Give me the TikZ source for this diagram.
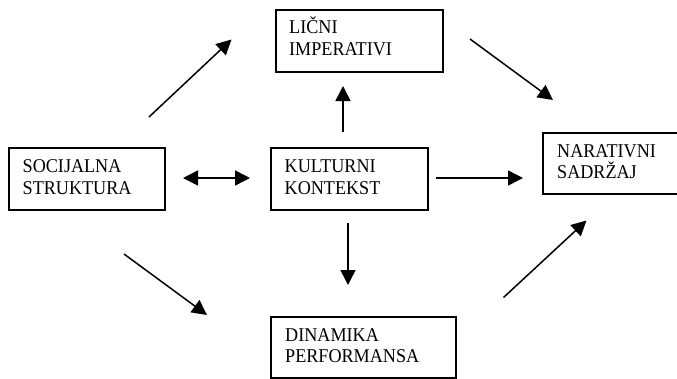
\documentclass[tikz,border=0pt]{standalone}
\usepackage{fontspec}
\setmainfont[FakeStretch=0.93]{Liberation Serif}
\usetikzlibrary{arrows.meta}
\begin{document}
\begin{tikzpicture}[x=1pt,y=-1pt,
  box/.style={draw=black, line width=2.2pt, rectangle, anchor=north west, inner sep=0pt},
  lbl/.style={anchor=base west, align=left, inner sep=0pt, font=\fontsize{19.5}{21.5}\selectfont},
  arr/.style={line width=1.5pt, -{Triangle[length=15pt,width=15pt]}},
  darr/.style={line width=1.5pt, {Triangle[length=15pt,width=15pt]}-{Triangle[length=15pt,width=15pt]}}]
\useasboundingbox (0,0) rectangle (677,378);
% boxes
\node[box, minimum width=167pt, minimum height=62pt] (lic) at (275,8.5) {};
\node[box, minimum width=156pt, minimum height=62pt] (soc) at (8,146.5) {};
\node[box, minimum width=157pt, minimum height=62pt] (kul) at (270,146.5) {};
\node[box, minimum width=135pt, minimum height=61pt] (nar) at (542,131.5) {};
\node[box, minimum width=185pt, minimum height=61pt] (din) at (270,315.5) {};
% labels (anchored at the baseline of the last line)
\node[lbl] (licT) at (289,55) {LIČNI\\IMPERATIVI};
\node[lbl] (socT) at (22.5,194) {SOCIJALNA\\STRUKTURA};
\node[lbl] (kulT) at (284.5,194) {KULTURNI\\KONTEKST};
\node[lbl] (narT) at (557,178.5) {NARATIVNI\\SADRŽAJ};
\node[lbl] (dinT) at (285,362.5) {DINAMIKA\\PERFORMANSA};
% arrow end coordinates
\coordinate (a1s) at (149,117); \coordinate (a1e) at (231.5,39.5);
\coordinate (a2s) at (470,39);  \coordinate (a2e) at (553,100);
\coordinate (a3s) at (343,132); \coordinate (a3e) at (343,86);
\coordinate (a4s) at (183,178); \coordinate (a4e) at (250,178);
\coordinate (a5s) at (436,178); \coordinate (a5e) at (523,178);
\coordinate (a6s) at (348,223); \coordinate (a6e) at (348,285);
\coordinate (a7s) at (124,254); \coordinate (a7e) at (207,315);
\coordinate (a8s) at (503.5,297.5); \coordinate (a8e) at (586.5,220.5);
\draw[arr] (a1s) -- (a1e);
\draw[arr] (a2s) -- (a2e);
\draw[arr] (a3s) -- (a3e);
\draw[darr] (a4s) -- (a4e);
\draw[arr] (a5s) -- (a5e);
\draw[arr] (a6s) -- (a6e);
\draw[arr] (a7s) -- (a7e);
\draw[arr] (a8s) -- (a8e);
\end{tikzpicture}
\end{document}
